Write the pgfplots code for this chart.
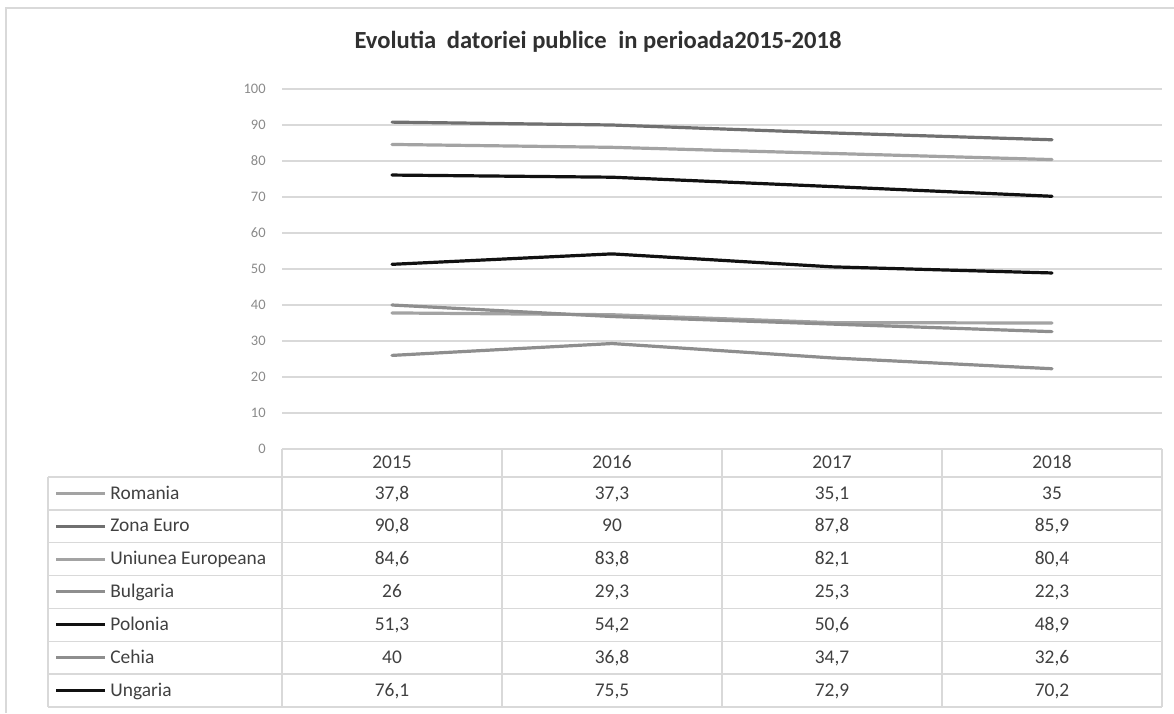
\documentclass[border=0pt]{standalone}
\usepackage{fontspec}
\setmainfont{Carlito}
\usepackage{pgfplots}
\pgfplotsset{compat=1.18}
\definecolor{gridgray}{HTML}{D9D9D9}
\definecolor{tickgray}{HTML}{8A8A8A}
\definecolor{txtgray}{HTML}{404040}
\definecolor{titlegray}{HTML}{303030}
\definecolor{cRo}{HTML}{A3A3A3}
\definecolor{cZE}{HTML}{707070}
\definecolor{cUE}{HTML}{A3A3A3}
\definecolor{cBg}{HTML}{8E8E8E}
\definecolor{cPl}{HTML}{111111}
\definecolor{cCz}{HTML}{8E8E8E}
\definecolor{cHu}{HTML}{111111}
\begin{document}
\begin{tikzpicture}
\useasboundingbox (0,0) rectangle (587pt,-356.5pt);
\begin{axis}[
  at={(141pt,-224.5pt)}, anchor=south west,
  scale only axis, width=440pt, height=180pt,
  xmin=-0.5, xmax=3.5, ymin=0, ymax=100,
  xtick=\empty, ytick={0,10,...,100},
  ymajorgrids, grid style={draw=gridgray, line width=0.6pt},
  axis line style={draw=none}, major tick length=0pt,
  /pgf/number format/assume math mode=true,
  y tick label style={font=\fontsize{7.25}{8}\selectfont, text=tickgray, anchor=east, inner sep=0pt, xshift=-8pt},
  clip=false,
  every axis plot/.append style={line width=1.6pt, line join=round, line cap=round, mark=none},
]
\addplot[cRo] coordinates {(0,37.8) (1,37.3) (2,35.1) (3,35)};
\addplot[cZE] coordinates {(0,90.8) (1,90) (2,87.8) (3,85.9)};
\addplot[cUE] coordinates {(0,84.6) (1,83.8) (2,82.1) (3,80.4)};
\addplot[cBg] coordinates {(0,26) (1,29.3) (2,25.3) (3,22.3)};
\addplot[cPl] coordinates {(0,51.3) (1,54.2) (2,50.6) (3,48.9)};
\addplot[cCz] coordinates {(0,40) (1,36.8) (2,34.7) (3,32.6)};
\addplot[cHu] coordinates {(0,76.1) (1,75.5) (2,72.9) (3,70.2)};
\end{axis}
\begin{scope}[x=0.5pt,y=-0.5pt]
  % outer frame
  \draw[gridgray, line width=1pt] (6,713) -- (6,8) -- (1174,8);
  % title
  \node[font=\fontsize{12.3}{14}\selectfont\bfseries, text=titlegray] at (598,42) {Evolutia\hspace{0.2em} datoriei publice\hspace{0.25em} in perioada2015-2018};
  % table lines
  \begin{scope}[draw=gridgray, line width=0.7pt]
    \draw (282,449) -- (1162,449);
    \foreach \i in {0,...,7} \draw (48,477+32.857*\i) -- (1162,477+32.857*\i);
    \draw (48,477) -- (48,707);
    \foreach \xx in {282,502,722,942,1162} \draw (\xx,449) -- (\xx,707);
  \end{scope}
  \begin{scope}[font=\fontsize{9.7}{11}\selectfont, text=txtgray, every node/.append style={text height=0.68em, text depth=0.12em}]
    \foreach \yr [count=\k from 0] in {2015,2016,2017,2018}
      \node at (392+220*\k,463) {\yr};
    \foreach \nm/\cc/\a/\b/\c/\d [count=\i from 0] in {
      Romania/cRo/{37,8}/{37,3}/{35,1}/35,
      Zona Euro/cZE/{90,8}/90/{87,8}/{85,9},
      Uniunea Europeana/cUE/{84,6}/{83,8}/{82,1}/{80,4},
      Bulgaria/cBg/26/{29,3}/{25,3}/{22,3},
      Polonia/cPl/{51,3}/{54,2}/{50,6}/{48,9},
      Cehia/cCz/40/{36,8}/{34,7}/{32,6},
      Ungaria/cHu/{76,1}/{75,5}/{72,9}/{70,2}} {
      \draw[\cc, line width=1.5pt] (56,493.4+32.857*\i) -- (105,493.4+32.857*\i);
      \node[anchor=west, inner sep=0pt] at (110,493.4+32.857*\i) {\nm};
      \node at (392,493.4+32.857*\i) {\a};
      \node at (612,493.4+32.857*\i) {\b};
      \node at (832,493.4+32.857*\i) {\c};
      \node at (1052,493.4+32.857*\i) {\d};
    }
  \end{scope}
\end{scope}
\end{tikzpicture}
\end{document}
